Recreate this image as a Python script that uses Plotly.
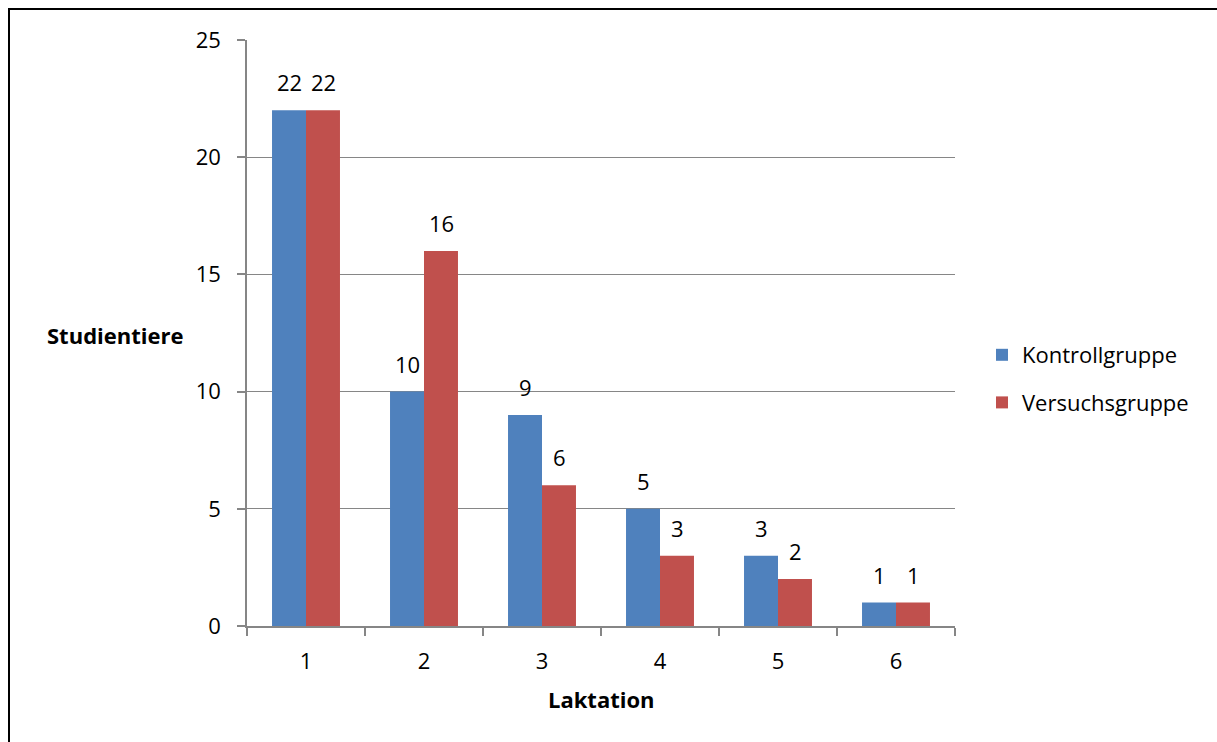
import plotly.graph_objects as go

laktation = ["1", "2", "3", "4", "5", "6"]
kontrollgruppe = [22, 10, 9, 5, 3, 1]
versuchsgruppe = [22, 16, 6, 3, 2, 1]
y_ticks = [0, 5, 10, 15, 20, 25]

FONT = "Open Sans"
FS = 22
BLUE = "#4F81BD"
RED = "#C0504D"
GRID = "#868686"

fig = go.Figure()
fig.add_trace(go.Bar(x=laktation, y=kontrollgruppe, name="Kontrollgruppe",
                     marker=dict(color=BLUE, line=dict(width=0)), legendgroup="a"))
fig.add_trace(go.Bar(x=laktation, y=versuchsgruppe, name="Versuchsgruppe",
                     marker=dict(color=RED, line=dict(width=0)), legendgroup="b"))

annotations = []
# category axis: annotation x given as category index
for i, v in enumerate(kontrollgruppe):
    annotations.append(dict(x=i, y=v, xref="x", yref="y", text=str(v), showarrow=False,
                            xshift=-17, yshift=28, yanchor="middle",
                            font=dict(family=FONT, size=FS, color="black")))
for i, v in enumerate(versuchsgruppe):
    annotations.append(dict(x=i, y=v, xref="x", yref="y", text=str(v), showarrow=False,
                            xshift=17, yshift=28, yanchor="middle",
                            font=dict(family=FONT, size=FS, color="black")))

L, R, T, B = 247, 955, 40, 626
W, H = 1217, 742
pw, ph = R - L, B - T

def px(x):
    return (x - L) / pw

def py(y):
    return 1 - (y - T) / ph

annotations.append(dict(x=px(115), y=py(335), xref="paper", yref="paper", text="<b>Studientiere</b>",
                        showarrow=False, xanchor="center", yanchor="middle",
                        font=dict(family=FONT, size=FS, color="black")))
annotations.append(dict(x=px(601), y=py(699), xref="paper", yref="paper", text="<b>Laktation</b>",
                        showarrow=False, xanchor="center", yanchor="middle",
                        font=dict(family=FONT, size=FS, color="black")))

fig.update_layout(
    width=W, height=H,
    margin=dict(l=L, r=W - R, t=T, b=H - B, autoexpand=False),
    paper_bgcolor="white", plot_bgcolor="white",
    barmode="group", bargap=0.424, bargroupgap=0,
    font=dict(family=FONT, size=FS, color="black"),
    showlegend=True,
    legend=dict(x=px(982), y=py(379), xanchor="left", yanchor="middle",
                traceorder="grouped", tracegroupgap=16,
                font=dict(family=FONT, size=FS, color="black"),
                bgcolor="rgba(0,0,0,0)"),
    annotations=annotations,
    shapes=[dict(type="rect", xref="paper", yref="paper",
                 x0=px(9), x1=px(1230), y0=py(760), y1=py(9),
                 line=dict(color="black", width=2), fillcolor="rgba(0,0,0,0)", layer="above")],
)

fig.update_xaxes(type="category", range=[-0.5, 5.5], showline=True, linecolor=GRID, linewidth=1.5,
                 ticks="outside", ticklen=8, tickcolor=GRID, tickwidth=1.5,
                 tickson="boundaries", showgrid=False, ticklabelstandoff=15,
                 tickfont=dict(family=FONT, size=FS, color="black"))
fig.update_yaxes(range=[0, 25], tickvals=y_ticks, showline=True, linecolor=GRID, linewidth=1.5,
                 ticks="outside", ticklen=8, tickcolor=GRID, tickwidth=1.5,
                 showgrid=True, gridcolor=GRID, gridwidth=1.2, zeroline=False,
                 ticklabelstandoff=12,
                 tickfont=dict(family=FONT, size=FS, color="black"))

fig.write_html("out.html", config={"displayModeBar": False},
               post_script="document.body.style.margin='0';")
